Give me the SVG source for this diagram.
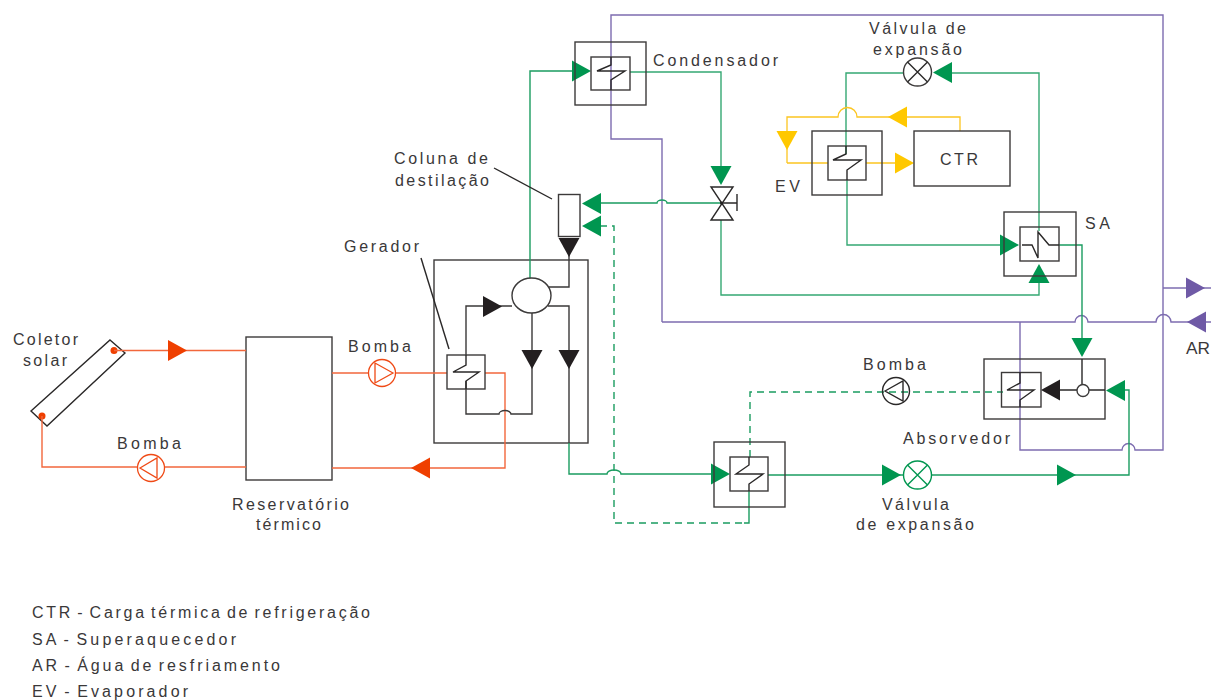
<svg xmlns="http://www.w3.org/2000/svg" width="1211" height="700" viewBox="0 0 1211 700">
<style>
text{font-family:"Liberation Sans",Arial,sans-serif;font-size:16px;fill:#3a3839;text-anchor:start}
#legenda text{word-spacing:-3px}
.box{fill:none;stroke:#3c3a3a;stroke-width:1.4}
.w{fill:#fff}
.k{fill:none;stroke:#2a2828;stroke-width:1.4}
.p,.g,.gs,.gd,.o,.y,.n{fill:none;stroke-linejoin:miter}
.p{stroke:#7d6cb0;stroke-width:1.4}
.g{stroke:#35a873;stroke-width:1.4}
.gs{stroke:#1a9c60;stroke-width:1.4}
.gd{stroke:#1a9c60;stroke-width:1.4;stroke-dasharray:7 5}
.o{stroke:#f2673c;stroke-width:1.4}
.y{stroke:#fcc520;stroke-width:1.3}
.n{stroke:#3a3838;stroke-width:1.4}
.ag{fill:#009650}.ak{fill:#231f20}.ao{fill:#ef3f00}.ay{fill:#ffc800}.ap{fill:#6f5aa6}
</style>
<defs>
<polygon id="a" points="0,0 -19,-10.5 -19,10.5"/>
</defs>
<rect width="1211" height="700" fill="#fff"/>

<g id="coletor">
<polygon class="k w" points="110,340 125,353 47,426 31,411"/>
<circle cx="114" cy="350.500" r="3.500" class="ao"/>
<circle cx="42" cy="416" r="3.500" class="ao"/>
<text x="13" y="345" textLength="65">Coletor</text><text x="23" y="366" textLength="44">solar</text>
</g>
<g id="reservatorio">
<rect class="box w" x="246" y="337" width="86" height="143"/>
<text x="232" y="510" textLength="117">Reservatório</text><text x="256" y="530" textLength="65">térmico</text>
</g>
<g id="gerador">
<rect class="box" x="434" y="260" width="154" height="183"/>
<text x="344" y="252" textLength="75">Gerador</text>
<path class="k" d="M421,258L449,349"/>
</g>

<g id="connectors">
<path class="p" d="M662,322V139H611V15H1163V450H1135a6.500,6.500 0 0 0 -13,0H1020V322"/>
<path class="p" d="M662,322H1075a6.500,6.500 0 0 1 13,0H1156a7.500,7.500 0 0 1 15,0H1211"/>
<path class="p" d="M1163,288H1211"/>
<path class="gs" d="M530,278V71H575"/>
<path class="g" d="M630,72H721V170"/>
<path class="g" d="M721,220V295H1039V280"/>
<path class="gs" d="M721,203H667a5,3 0 0 0 -10,0H600"/>
<path class="g" d="M1039,231V73H950"/>
<path class="g" d="M903,73H846V154"/>
<path class="g" d="M847,180V245H1002"/>
<path class="gs" d="M1059,245H1082V345"/>
<path class="gs" d="M1124,390H1129V475H931"/>
<path class="gs" d="M903,475H768"/>
<path class="gs" d="M569,443V474H607a7,4 0 0 1 14,0H715"/>
<path class="gd" d="M600,226H614V523H745"/>
<path class="gs" d="M744,523H749V491"/>
<path class="gd" d="M750,457V392H1003"/>
<path class="y" d="M787,163V117H838a9.500,9.500 0 0 1 19,0H960V131"/>
<path class="y" d="M787,163H828M866,163H900"/>
<path class="o" d="M114,350.500H246M42,416V467H246"/>
<path class="o" d="M332,373H447M485,373H505V468H332"/>
<path class="n" d="M569,240V287H549M512,306H466V355M466,381V414H499a6,3.500 0 0 1 12,0H532V313M548,306H569V443"/>
<use href="#a" class="ag" transform="translate(591,71)"/>
<use href="#a" class="ag" transform="translate(721,185) rotate(90)"/>
<use href="#a" class="ag" transform="translate(582,203.500) rotate(180)"/>
<use href="#a" class="ag" transform="translate(582,226) rotate(180)"/>
<use href="#a" class="ag" transform="translate(933,72.500) rotate(180)"/>
<use href="#a" class="ag" transform="translate(1019,245)"/>
<use href="#a" class="ag" transform="translate(1039,264) rotate(-90)"/>
<use href="#a" class="ag" transform="translate(1082,357) rotate(90)"/>
<use href="#a" class="ag" transform="translate(1106,390.500) rotate(180)"/>
<use href="#a" class="ag" transform="translate(1076,475)"/>
<use href="#a" class="ag" transform="translate(901,475)"/>
<use href="#a" class="ag" transform="translate(730,474)"/>
<use href="#a" class="ak" transform="translate(569,257) rotate(90)"/>
<use href="#a" class="ak" transform="translate(502,306.500)"/>
<use href="#a" class="ak" transform="translate(532,369) rotate(90)"/>
<use href="#a" class="ak" transform="translate(569,369) rotate(90)"/>
<use href="#a" class="ak" transform="translate(1041,390)rotate(180)"/>
<use href="#a" class="ao" transform="translate(187,350.500)"/>
<use href="#a" class="ao" transform="translate(411,468) rotate(180)"/>
<use href="#a" class="ay" transform="translate(787,150) rotate(90)"/>
<use href="#a" class="ay" transform="translate(888,117) rotate(180)"/>
<use href="#a" class="ay" transform="translate(914,163)"/>
<use href="#a" class="ap" transform="translate(1205,288)"/>
<use href="#a" class="ap" transform="translate(1187,322) rotate(180)"/>
</g>

<g id="condensador">
<rect class="box" x="575" y="42" width="71" height="63"/>
<rect class="box" x="591" y="57" width="39" height="33"/>
<path class="k" d="M611,57V65L597,71H625L611,80V90"/>
<text x="653" y="66" textLength="125">Condensador</text>
</g>
<g id="coluna">
<rect class="box w" x="558.500" y="194.500" width="21.500" height="42"/>
<text x="394" y="164" textLength="94">Coluna de</text><text x="395" y="186" textLength="94">destilação</text>
<path class="k" d="M494,168L552,199"/>
</g>
<g id="separador">
<ellipse class="box w" cx="531.500" cy="295.500" rx="19.500" ry="17.500"/>
</g>
<g id="trocador-gerador">
<rect class="box" x="447" y="355" width="38" height="34"/>
<path class="k" d="M466,355V365L453,372H479L466,381V389"/>
</g>
<g id="valvula-1">
<path class="k w" d="M711,187H733L711,220H733Z"/>
<path class="k" d="M722,203H737M737,194V211"/>
<circle cx="721.500" cy="203" r="1.500" fill="#231f20"/>
</g>
<g id="valvula-2">
<circle class="box" cx="917.500" cy="72" r="14"/>
<path class="k" d="M907.500,62L927.500,82M927.500,62L907.500,82"/>
<text x="869" y="34" textLength="97">Válvula de</text><text x="873" y="55" textLength="89">expansão</text>
</g>
<g id="evaporador">
<rect class="box" x="812" y="131" width="70" height="64"/>
<rect class="box" x="828" y="146" width="38" height="34"/>
<path class="k" d="M846,146V154L833,160H861L847,170V180"/>
<text x="775" y="192" textLength="25">EV</text>
</g>
<g id="ctr">
<rect class="box" x="914" y="131" width="96" height="55"/>
<text x="940" y="165" textLength="38">CTR</text>
</g>
<g id="superaquecedor">
<rect class="box" x="1004" y="212" width="72" height="64"/>
<rect class="box" x="1020" y="227" width="39" height="34"/>
<path class="k" d="M1022,245H1032L1038,258V232L1049,245H1059"/>
<text x="1085" y="229" textLength="25">SA</text>
</g>
<g id="absorvedor">
<rect class="box" x="984" y="359" width="121" height="60"/>
<rect class="box" x="1001.500" y="372.500" width="39.500" height="34.500"/>
<path class="k" d="M1020,372V383L1007,390H1034L1020,400V407"/>
<path class="k" d="M1060,390H1077M1089,390H1105M1082,359V384"/>
<circle class="box w" cx="1083" cy="390.500" r="6"/>
<text x="903" y="444" textLength="107">Absorvedor</text>
</g>
<g id="trocador">
<rect class="box" x="714" y="442" width="71" height="65"/>
<rect class="box" x="730" y="457" width="38" height="34"/>
<path class="k" d="M749,457V465L736,474H763L749,484V491"/>
</g>
<g id="valvula-3">
<circle cx="917.500" cy="475" r="14" fill="none" stroke="#009650" stroke-width="1.400"/>
<path d="M907.500,465L927.500,485M927.500,465L907.500,485" fill="none" stroke="#009650" stroke-width="1.400"/>
<text x="882" y="510" textLength="67">Válvula</text><text x="856" y="530" textLength="118">de expansão</text>
</g>
<g id="bomba-1">
<circle cx="151" cy="468" r="13.500" class="w" stroke="#ef4a16" stroke-width="1.300"/>
<path d="M140,468L157,458V478Z" fill="none" stroke="#ef4a16" stroke-width="1.300"/>
<text x="117" y="449" textLength="64">Bomba</text>
</g>
<g id="bomba-2">
<circle cx="382" cy="373" r="13.500" class="w" stroke="#ef4a16" stroke-width="1.300"/>
<path d="M393,373L375,363V383Z" fill="none" stroke="#ef4a16" stroke-width="1.300"/>
<text x="348" y="352" textLength="63">Bomba</text>
</g>
<g id="bomba-3">
<circle class="k w" cx="896" cy="391" r="13.500"/>
<path class="k" d="M885,391L903,381V401Z"/>
<text x="863" y="370" textLength="63">Bomba</text>
</g>
<g id="ar">
<text x="1186" y="354" textLength="24" lengthAdjust="spacingAndGlyphs">AR</text>
</g>
<g id="legenda">
<text x="32" y="618" textLength="338">CTR - Carga térmica de refrigeração</text>
<text x="32" y="645" textLength="204">SA - Superaquecedor</text>
<text x="32" y="671" textLength="248">AR - Água de resfriamento</text>
<text x="32" y="697" textLength="156">EV - Evaporador</text>
</g>
</svg>
